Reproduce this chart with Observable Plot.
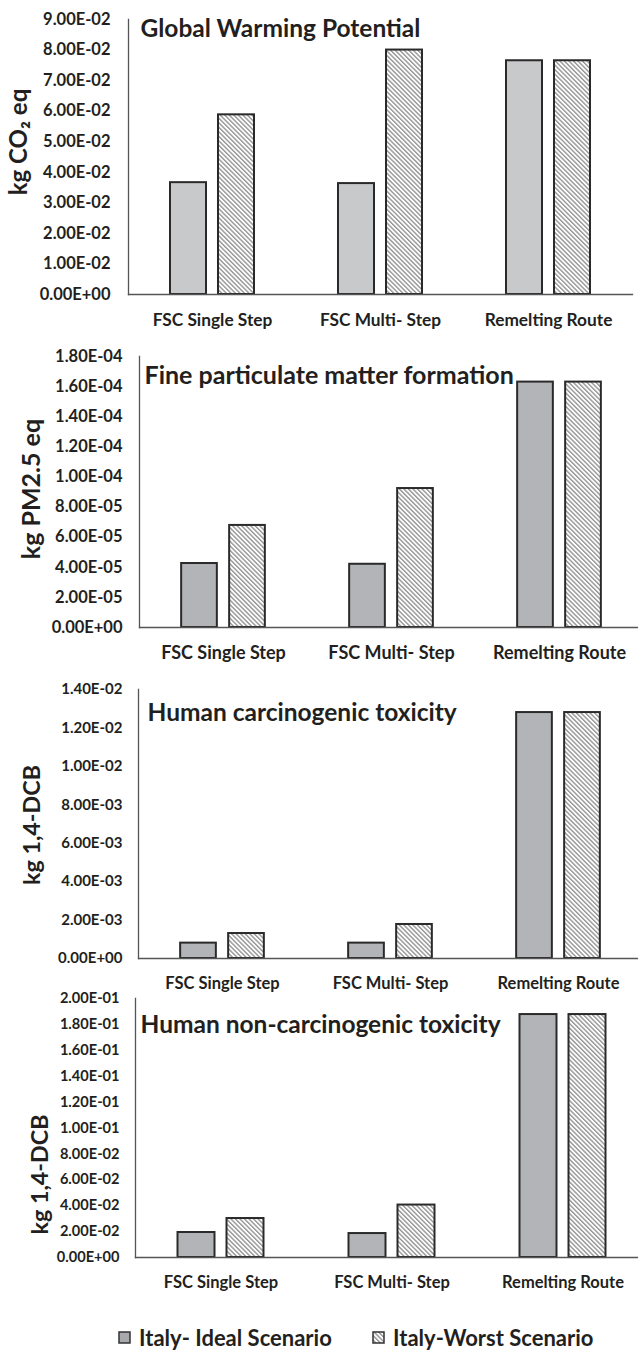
<!DOCTYPE html>
<html>
<head>
<meta charset="utf-8">
<script src="https://cdn.jsdelivr.net/npm/d3@7"></script>
<script src="https://cdn.jsdelivr.net/npm/@observablehq/plot@0.6"></script>
<style>
  body { margin: 0; background: #fff; }
  #root { position: relative; width: 638px; height: 1358px; overflow: hidden; font-family: Lato, "Open Sans", sans-serif; color: #231f20; }
  .panel { position: absolute; left: 0; }
  #legend { position: absolute; left: 0; top: 1322px; width: 638px; height: 30px; font-weight: bold; font-size: 22px; color: #231f20; }
  .item { position: absolute; top: 0; display: flex; align-items: center; height: 30px; white-space: nowrap; }
</style>
</head>
<body>
<svg width="0" height="0" style="position:absolute">
  <defs>
    <pattern id="hatch" patternUnits="userSpaceOnUse" width="3.2" height="3.2" patternTransform="rotate(-45)">
      <rect width="3.2" height="3.2" fill="#ffffff"></rect>
      <rect width="1.4" height="3.2" fill="#959595"></rect>
    </pattern>
  </defs>
</svg>
<div id="root"></div>
<script>
// ---------- data ----------
const routes = ["FSC Single Step", "FSC Multi- Step", "Remelting Route"];
const scenarios = ["Italy- Ideal Scenario", "Italy-Worst Scenario"];

const gwpIdeal = [0.0366, 0.0363, 0.0765];
const gwpWorst = [0.0588, 0.0800, 0.0765];
const gwpTicks = [0, 0.01, 0.02, 0.03, 0.04, 0.05, 0.06, 0.07, 0.08, 0.09];

const pmIdeal = [4.25e-5, 4.2e-5, 1.63e-4];
const pmWorst = [6.78e-5, 9.23e-5, 1.63e-4];
const pmTicks = [0, 2e-5, 4e-5, 6e-5, 8e-5, 1e-4, 1.2e-4, 1.4e-4, 1.6e-4, 1.8e-4];

const hctIdeal = [8.0e-4, 8.0e-4, 1.28e-2];
const hctWorst = [1.30e-3, 1.77e-3, 1.28e-2];
const hctTicks = [0, 2e-3, 4e-3, 6e-3, 8e-3, 1e-2, 1.2e-2, 1.4e-2];

const hnctIdeal = [0.0193, 0.0185, 0.1876];
const hnctWorst = [0.0301, 0.0405, 0.1876];
const hnctTicks = [0, 0.02, 0.04, 0.06, 0.08, 0.10, 0.12, 0.14, 0.16, 0.18, 0.20];

const titles = ["Global Warming Potential", "Fine particulate matter formation", "Human carcinogenic toxicity", "Human non-carcinogenic toxicity"];
const yLabels = ["kg CO\u2082 eq", "kg PM2.5 eq", "kg 1,4-DCB", "kg 1,4-DCB"];

// ---------- helpers ----------
function sci(d) {
  const [m, e] = d.toExponential(2).split("e");
  const sign = e[0] === "-" ? "-" : "+";
  const digits = e.replace(/[+-]/, "").padStart(2, "0");
  return `${m}E${sign}${digits}`;
}

function rowsOf(ideal, worst) {
  return routes.flatMap((r, i) => [
    {route: r, scenario: scenarios[0], value: ideal[i]},
    {route: r, scenario: scenarios[1], value: worst[i]}
  ]);
}

function panel(cfg) {
  const rows = rowsOf(cfg.ideal, cfg.worst);
  const S = cfg.step, w = cfg.barW, g = 10;
  const half = S / 2;
  const plot = Plot.plot({
    width: 638,
    height: cfg.height,
    marginTop: cfg.marginTop,
    marginBottom: cfg.marginBottom,
    marginLeft: cfg.marginLeft,
    marginRight: 638 - cfg.marginLeft - 3 * S,
    style: {background: "transparent", overflow: "visible", fontFamily: "Lato, 'Open Sans', sans-serif", fontWeight: "bold", color: "#231f20"},
    x: {domain: routes, padding: 0, axis: null},
    y: {domain: [0, cfg.ymax], axis: null},
    marks: [
      Plot.barY(rows.filter(d => d.scenario === scenarios[0]), {
        x: "route", y: "value", fill: cfg.fill, stroke: "#2a2a2a", strokeWidth: 2,
        insetLeft: half - g / 2 - w + 1, insetRight: half + g / 2 + 1
      }),
      Plot.barY(rows.filter(d => d.scenario === scenarios[1]), {
        x: "route", y: "value", fill: "url(#hatch)", stroke: "#2a2a2a", strokeWidth: 2,
        insetLeft: half + g / 2 + 1, insetRight: half - g / 2 - w + 1
      }),
      Plot.frame({anchor: "left", stroke: "#555", strokeWidth: 1.3}),
      Plot.frame({anchor: "bottom", stroke: "#555", strokeWidth: 1.3}),
      Plot.axisY({ticks: cfg.ticks, tickFormat: sci, tickSize: 0, tickPadding: cfg.tickPad, fontSize: cfg.tickFont, fontWeight: "bold", label: null}),
      Plot.axisX({tickSize: 0, tickPadding: cfg.catPad, fontSize: cfg.catFont, fontWeight: "bold", label: null}),
      Plot.text([cfg.title], {frameAnchor: "top-left", textAnchor: "start", lineAnchor: "top", dx: cfg.titleDx, dy: cfg.titleDy, fontSize: cfg.titleFont, fontWeight: "bold", fill: "#231f20"}),
      Plot.text([cfg.ylabel], {frameAnchor: "left", rotate: -90, textAnchor: "middle", lineAnchor: "middle", dx: cfg.labelDx, dy: cfg.labelDy, fontSize: cfg.labelFont, fontWeight: "bold", fill: "#231f20"})
    ]
  });
  plot.classList.add("panel");
  plot.style.top = cfg.top + "px";
  return plot;
}

const root = document.getElementById("root");

const configs = [
  {top: 0, height: 335, marginTop: 19, marginBottom: 41, marginLeft: 128, step: 168, barW: 38,
   ideal: gwpIdeal, worst: gwpWorst, ticks: gwpTicks, ymax: 0.09, fill: "#c8c9cb",
   title: titles[0], ylabel: yLabels[0], tickFont: 16.5, tickPad: 18, catFont: 17.3, catPad: 19,
   titleFont: 24.5, titleDx: 12, titleDy: 0, labelFont: 24, labelDx: -109, labelDy: -15},
  {top: 335, height: 332, marginTop: 21, marginBottom: 40, marginLeft: 139, step: 168.3, barW: 38,
   ideal: pmIdeal, worst: pmWorst, ticks: pmTicks, ymax: 1.8e-4, fill: "#b2b4b7",
   title: titles[1], ylabel: yLabels[1], tickFont: 16.5, tickPad: 17, catFont: 18, catPad: 19,
   titleFont: 25, titleDx: 5, titleDy: 10, labelFont: 25, labelDx: -108, labelDy: -3},
  {top: 667, height: 331, marginTop: 22, marginBottom: 40, marginLeft: 138, step: 168.3, barW: 38,
   ideal: hctIdeal, worst: hctWorst, ticks: hctTicks, ymax: 1.4e-2, fill: "#b2b4b7",
   title: titles[2], ylabel: yLabels[2], tickFont: 15, tickPad: 16, catFont: 16.5, catPad: 19,
   titleFont: 24.5, titleDx: 9, titleDy: 14, labelFont: 23.3, labelDx: -106, labelDy: 1},
  {top: 980, height: 320, marginTop: 18, marginBottom: 43, marginLeft: 135, step: 171, barW: 39,
   ideal: hnctIdeal, worst: hnctWorst, ticks: hnctTicks, ymax: 0.2, fill: "#b2b4b7",
   title: titles[3], ylabel: yLabels[3], tickFont: 14.6, tickPad: 16, catFont: 16.5, catPad: 19,
   titleFont: 24.5, titleDx: 5, titleDy: 17, labelFont: 23.3, labelDx: -95, labelDy: 46.5}
];

configs.forEach(c => root.appendChild(panel(c)));

// ---------- legend ----------
const legend = document.createElement("div");
legend.id = "legend";
const positions = [118, 372];
const swatchFills = ["#a7a9ac", "url(#hatch)"];
scenarios.forEach((s, i) => {
  const item = document.createElement("div");
  item.className = "item";
  item.style.left = positions[i] + "px";
  const sw = document.createElementNS("http://www.w3.org/2000/svg", "svg");
  sw.setAttribute("width", 13); sw.setAttribute("height", 13);
  sw.style.marginRight = "8px";
  const r = document.createElementNS("http://www.w3.org/2000/svg", "rect");
  r.setAttribute("x", 1); r.setAttribute("y", 1); r.setAttribute("width", 11); r.setAttribute("height", 11);
  r.setAttribute("fill", swatchFills[i]); r.setAttribute("stroke", "#333"); r.setAttribute("stroke-width", 1.5);
  sw.appendChild(r);
  item.appendChild(sw);
  const t = document.createElement("span");
  t.textContent = s;
  item.appendChild(t);
  legend.appendChild(item);
});
root.appendChild(legend);
</script>
</body>
</html>
